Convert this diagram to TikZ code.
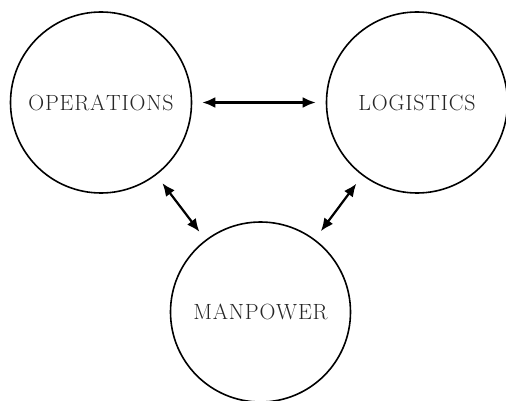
\documentclass[tikz,border=0pt]{standalone}
\usepackage{fontspec}
\usetikzlibrary{arrows.meta}
\def\lspaced#1{\lsloop#1\relax}
\def\lsloop#1{\ifx#1\relax\unkern\else#1\kern0.8pt\expandafter\lsloop\fi}
\begin{document}
\begin{tikzpicture}[x=1pt,y=-1pt,
  realm/.style={draw=black, line width=1.6pt, circle, inner sep=0pt, minimum size=181pt,
     font=\fontsize{22}{24}\selectfont, text=black!85},
  link/.style={line width=2.2pt, {Latex[length=13pt,width=11pt]}-{Latex[length=13pt,width=11pt]},
     shorten >=10pt, shorten <=10pt}]
\useasboundingbox (0,0) rectangle (506,401);
\node[realm] (ops) at (101,102.5) {\lspaced{OPERATIONS}};
\node[realm] (log) at (417,102.5) {\lspaced{LOGISTICS}};
\node[realm, minimum size=180pt] (man) at (260.5,312) {\lspaced{MANPOWER}};
\draw[link] (ops) -- (log);
\draw[link] (ops) -- (man);
\draw[link] (log) -- (man);
\end{tikzpicture}
\end{document}
